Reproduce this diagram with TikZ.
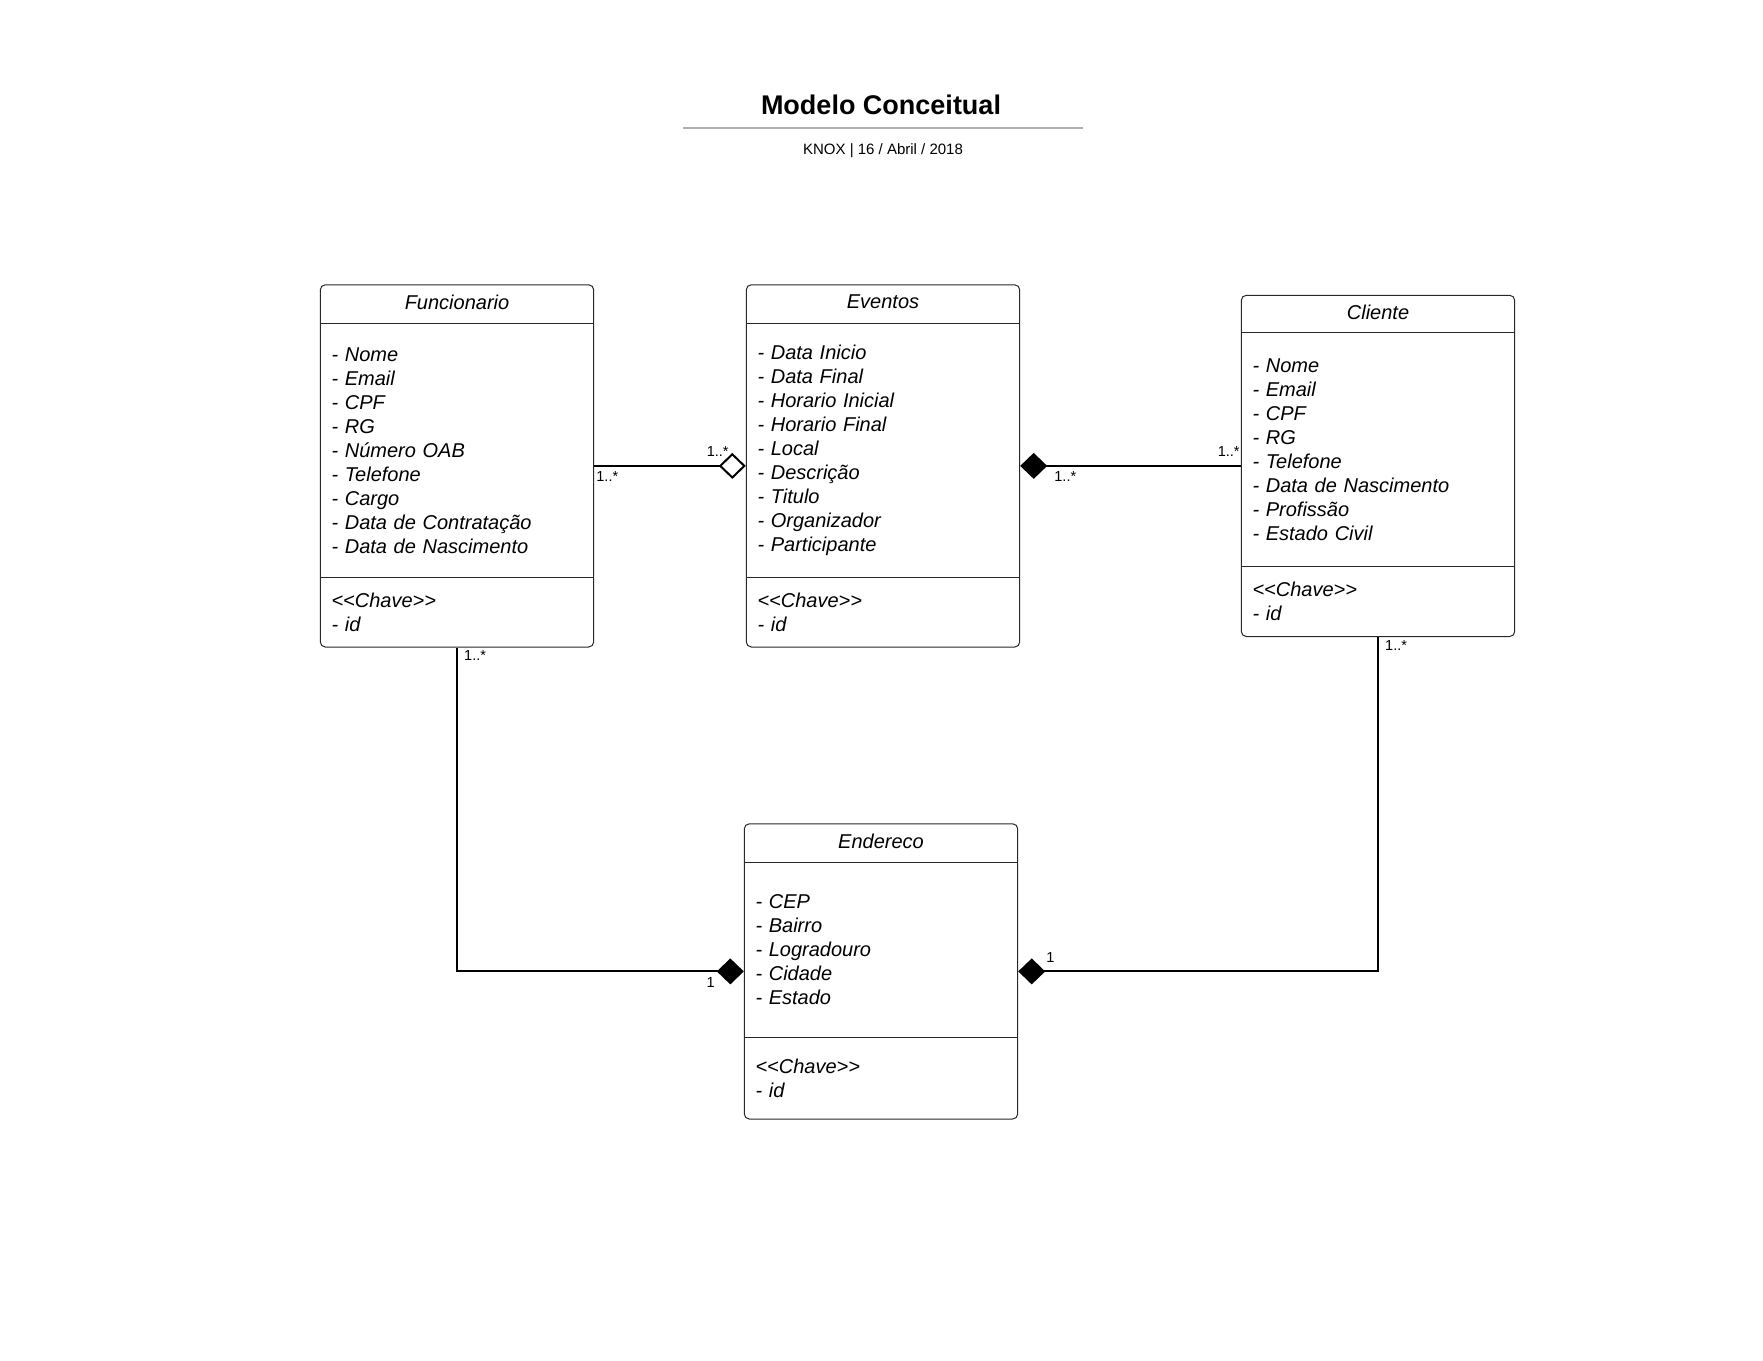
\documentclass[tikz,border=0pt]{standalone}
\usepackage{fontspec}
\setmainfont{Liberation Sans}
\usetikzlibrary{positioning, fit, arrows.meta}
\definecolor{rulegray}{RGB}{176,176,176}
\definecolor{boxline}{RGB}{40,40,40}
\newcommand{\chavekey}{<\kern0pt<Chave>\kern0pt>}

\begin{document}
\begin{tikzpicture}[
    x=1pt, y=-1pt,
    head/.style={rectangle, minimum width=273pt, inner sep=0pt, text depth=4.5pt, font=\fontsize{20}{24}\selectfont\itshape},
    attrs/.style={rectangle, text width=251pt, inner xsep=11pt, inner ysep=0pt, align=left, font=\fontsize{20}{24}\selectfont\itshape},
    classbox/.style={rectangle, draw=boxline, line width=1pt, rounded corners=5pt, inner sep=0pt},
    sepline/.style={draw=boxline, line width=1pt},
    assoc/.style={line width=2pt},
    comp/.style={-{Diamond[length=27pt, width=26pt]}},
    aggr/.style={-{Diamond[open, length=27pt, width=26pt]}},
    mult/.style={inner sep=0pt, font=\fontsize{14.5}{16}\selectfont}
]
\useasboundingbox (0,0) rectangle (1763,1360);

% Title
\node[anchor=base, font=\fontsize{27}{32}\selectfont\bfseries] (title) at (881,114) {Modelo Conceitual};
\coordinate (ruleL) at (683,128);
\coordinate (ruleR) at (1083,128);
\draw[rulegray, line width=2pt] (ruleL) -- (ruleR);
\node[anchor=base, font=\fontsize{15}{18}\selectfont] (sub) at (883,154) {KNOX | 16 / Abril / 2018};

% Funcionario
\node[head, minimum height=38pt] (funcH) at (457,304) {Funcionario};
\node[attrs, minimum height=254pt, below=0pt of funcH] (funcA) {- Nome\\- Email\\- CPF\\- RG\\- Número OAB\\- Telefone\\- Cargo\\- Data de Contratação\\- Data de Nascimento};
\node[attrs, minimum height=69pt, below=0pt of funcA] (funcK) {\chavekey\\- id};
\node[classbox, fit=(funcH) (funcK)] (func) {};
\draw[sepline] (funcA.north west) -- (funcA.north east);
\draw[sepline] (funcK.north west) -- (funcK.north east);

% Eventos
\node[head, minimum height=38pt] (evH) at (883,304) {Eventos};
\node[attrs, minimum height=254pt, below=0pt of evH] (evA) {- Data Inicio\\- Data Final\\- Horario Inicial\\- Horario Final\\- Local\\- Descrição\\- Titulo\\- Organizador\\- Participante};
\node[attrs, minimum height=69pt, below=0pt of evA] (evK) {\chavekey\\- id};
\node[classbox, fit=(evH) (evK)] (ev) {};
\draw[sepline] (evA.north west) -- (evA.north east);
\draw[sepline] (evK.north west) -- (evK.north east);

% Cliente
\node[head, minimum height=37pt] (cliH) at (1378,314) {Cliente};
\node[attrs, minimum height=233pt, below=0pt of cliH] (cliA) {- Nome\\- Email\\- CPF\\- RG\\- Telefone\\- Data de Nascimento\\- Profissão\\- Estado Civil};
\node[attrs, minimum height=70pt, below=0pt of cliA] (cliK) {\chavekey\\- id};
\node[classbox, fit=(cliH) (cliK)] (cli) {};
\draw[sepline] (cliA.north west) -- (cliA.north east);
\draw[sepline] (cliK.north west) -- (cliK.north east);

% Endereco
\node[head, minimum height=38pt] (endH) at (881,843) {Endereco};
\node[attrs, minimum height=175pt, below=0pt of endH] (endA) {- CEP\\- Bairro\\- Logradouro\\- Cidade\\- Estado};
\node[attrs, minimum height=81pt, below=0pt of endA] (endK) {\chavekey\\- id};
\node[classbox, fit=(endH) (endK)] (end) {};
\draw[sepline] (endA.north west) -- (endA.north east);
\draw[sepline] (endK.north west) -- (endK.north east);

% Associations
\draw[assoc, aggr] (func.east) -- (ev.west);
\draw[assoc, comp] (cli.west) -- (ev.east);
\draw[assoc, comp] (func.south) |- (end.west);
\draw[assoc, comp] (cli.south) |- (end.east);

% Multiplicities
\node[mult, below right=5pt and 2pt of func.east] (m1) {1..*};
\node[mult, above left=9.5pt and 17pt of ev.west] (m2) {1..*};
\node[mult, below right=5pt and 34pt of ev.east] (m3) {1..*};
\node[mult, above left=9.5pt and 1pt of cli.west] (m4) {1..*};
\node[mult, below right=3pt and 7pt of func.south] (m5) {1..*};
\node[mult, below left=6pt and 29pt of end.west] (m6) {1};
\node[mult, above right=9pt and 28pt of end.east] (m7) {1};
\node[mult, below right=3pt and 7pt of cli.south] (m8) {1..*};

\end{tikzpicture}
\end{document}
